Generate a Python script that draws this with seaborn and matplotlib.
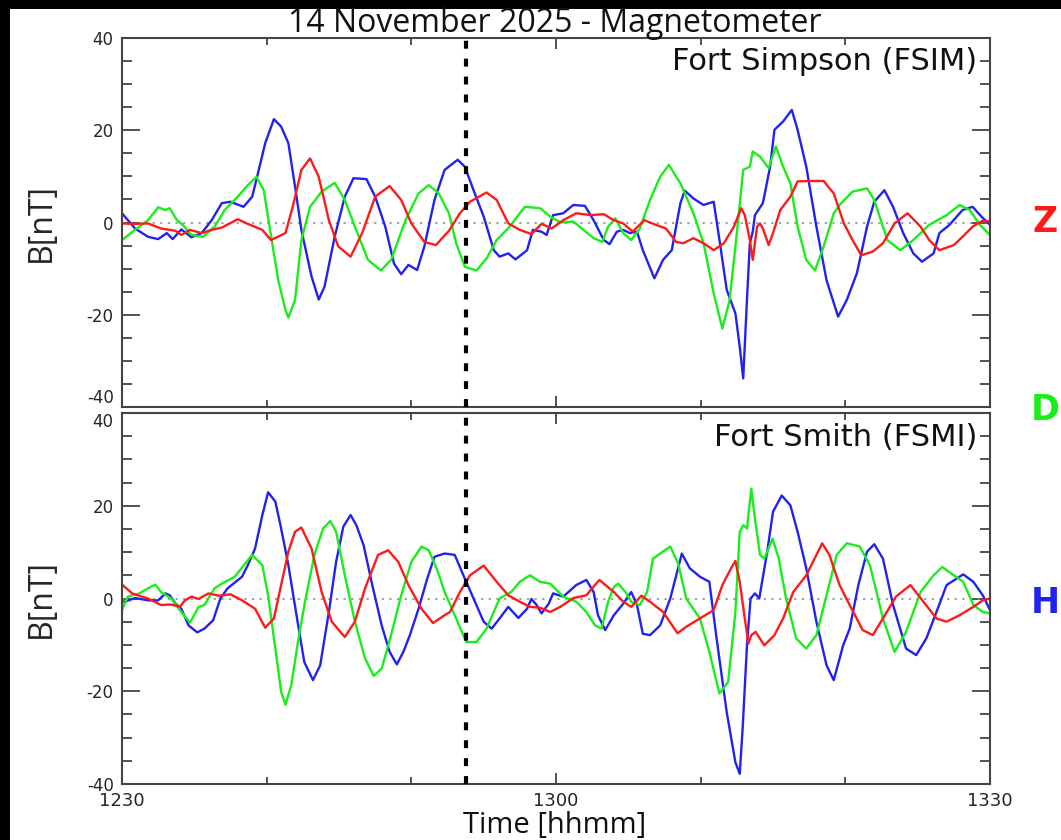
import numpy as np
import pandas as pd
import matplotlib
matplotlib.use("Agg")
import matplotlib.pyplot as plt
from matplotlib.patches import Rectangle
from matplotlib.ticker import MultipleLocator
import seaborn as sns

# ---------------- data (minutes after 12:30, nT) ----------------
fsim_h_t = [0, 0.9, 1.8, 2.5, 3.1, 3.5, 4.1, 4.8, 5.5, 6.2, 6.9, 7.5, 8.4, 9.0, 9.4, 9.9, 10.5, 11.0, 11.5, 11.96,
            12.4, 13.1, 13.6, 14.0, 14.7, 15.4, 16.0, 16.9, 17.5, 18.2, 18.8, 19.3, 19.8, 20.4, 20.9, 21.6, 22.3, 23.2,
            23.7, 24.3, 25.0, 25.7, 26.1, 26.7, 27.2, 28.0, 28.4, 29.0, 29.35, 29.8, 30.5, 31.2, 32.0, 32.6, 33.3, 33.7,
            34.2, 34.65, 35.1, 35.6, 36.0, 36.8, 37.4, 38.0, 38.6, 38.9, 39.5, 40.2, 40.9, 41.3, 41.8, 42.4, 42.7, 42.94,
            43.2, 43.4, 43.6, 43.75, 44.3, 44.8, 45.1, 45.7, 46.3, 46.7, 47.3, 48.0, 48.7, 49.5, 50.1, 50.8, 51.5, 52.0,
            52.7, 53.3, 54.0, 54.7, 55.3, 56.1, 56.5, 57.2, 58.1, 58.8, 59.4, 60]
fsim_h_v = [2.0, -1.3, -3.1, -3.6, -2.3, -3.6, -1.5, -3.2, -2.3, 0.5, 4.2, 4.5, 3.4, 5.6, 10.7, 17.2, 22.4, 20.8, 17.2, 7.8,
            -1.6, -11.7, -16.7, -13.9, -3.1, 5.6, 9.6, 9.4, 5.6, -0.9, -8.9, -11.2, -9.2, -10.3, -5.2, 4.9, 11.4, 13.6,
            12.1, 7.0, 1.3, -6.0, -7.4, -6.7, -8.0, -6.0, -1.6, -2.0, -2.7, 1.6, 2.0, 3.8, 3.6, 0.5, -3.8, -4.7,
            -2.0, -1.6, -2.3, -2.0, -6.0, -12.1, -8.1, -6.0, 4.2, 6.9, 5.2, 3.8, 4.5, -3.8, -14.6, -19.7, -26.9, -33.8,
            -16.8, -4.5, -2.0, 1.6, 4.2, 12.1, 20.1, 21.9, 24.4, 20.1, 12.1, -0.9, -12.5, -20.4, -16.8, -11.0, -0.9, 4.5,
            7.0, 3.4, -2.3, -6.7, -8.5, -6.7, -2.3, -0.5, 2.7, 3.4, 1.3, -0.5]

fsim_d_t = [0, 0.9, 1.8, 2.5, 3.0, 3.3, 3.8, 4.2, 4.8, 5.6, 6.4, 7.1, 8.0, 8.7, 9.3, 9.8, 10.2, 10.8, 11.3, 11.5, 11.96,
            12.4, 13.0, 13.8, 14.7, 15.4, 16.1, 17.0, 17.9, 18.6, 19.6, 20.5, 21.2, 21.9, 22.6, 23.1, 23.7, 24.5, 25.2,
            25.9, 26.8, 27.4, 27.85, 28.9, 29.6, 30.3, 31.2, 31.9, 32.6, 33.2, 33.6, 34.1, 34.65, 35.2, 35.8, 36.5, 37.2,
            37.8, 38.6, 39.5, 40.2, 40.9, 41.5, 42.0, 42.5, 42.94, 43.2, 43.4, 43.6, 44.1, 44.7, 45.2, 45.7, 46.2, 46.7,
            47.3, 47.9, 48.5, 49.2, 49.6, 50.5, 51.5, 52.0, 52.9, 53.8, 54.7, 55.8, 57.0, 57.9, 58.6, 59.3, 60]
fsim_d_v = [-3.8, -1.6, 0.5, 3.3, 2.7, 3.1, 0.5, -0.5, -2.7, -3.1, -0.9, 2.7, 5.6, 8.1, 9.9, 7.0, -0.9, -12.5, -19.0, -20.6, -16.8,
            -3.8, 3.4, 6.7, 8.6, 4.9, -0.9, -8.1, -10.4, -8.1, 0.5, 6.3, 8.1, 6.3, 2.0, -4.5, -9.6, -10.4, -7.8,
            -3.8, -0.9, 1.6, 3.4, 3.1, 1.3, 0.0, 0.2, -1.6, -3.4, -4.2, -0.9, 0.9, -2.3, -3.8, -1.3, 4.9, 9.9,
            12.5, 8.5, 2.0, -4.5, -15.4, -23.0, -16.8, -2.3, 11.4, 11.8, 12.1, 15.4, 14.3, 11.8, 16.5, 12.1, 8.5, -0.9,
            -8.1, -10.4, -5.2, 2.0, 3.8, 6.7, 7.4, 4.9, -3.8, -6.0, -3.8, -0.5, 1.6, 3.8, 2.7, -0.5, -2.7]

fsim_z_t = [0, 0.9, 1.8, 2.7, 3.7, 4.1, 4.7, 5.5, 6.2, 6.9, 8.0, 8.7, 9.7, 10.3, 11.3, 11.8, 12.4, 13.0, 13.6, 14.3,
            14.95, 15.8, 16.6, 17.5, 18.5, 19.3, 20.0, 20.9, 21.7, 22.6, 23.36, 24.05, 25.2, 25.9, 26.7, 27.5, 28.3,
            29.0, 29.7, 30.5, 31.4, 32.4, 33.3, 34.0, 34.65, 35.3, 36.1, 36.9, 37.6, 38.3, 38.8, 39.5, 40.2, 40.9, 41.6,
            42.3, 42.8, 43.05, 43.4, 43.6, 43.9, 44.1, 44.3, 44.7, 45.0, 45.5, 46.2, 46.7, 47.5, 48.5, 49.2, 49.9, 50.5,
            51.1, 51.9, 52.6, 53.4, 54.3, 55.2, 55.8, 56.5, 57.5, 58.1, 58.8, 59.5, 60]
fsim_z_v = [-0.2, -0.3, -0.2, -1.3, -1.8, -2.7, -1.6, -2.3, -1.6, -1.1, 0.7, -0.3, -1.6, -3.8, -2.3, 3.4, 11.4, 13.9, 9.9, 0.5,
            -5.2, -7.4, -2.3, 5.6, 7.9, 4.9, -0.2, -4.2, -4.9, -1.8, 2.0, 4.5, 6.5, 4.9, -0.2, -1.6, -2.5,
            -0.3, -1.3, 0.5, 2.0, 1.6, 1.8, 0.5, -0.2, -2.0, 0.5, -0.5, -1.3, -4.2, -4.5, -3.4, -4.5, -6.0, -4.5,
            -0.9, 3.1, 1.6, -3.8, -8.1, -0.9, -0.2, -1.3, -4.9, -2.3, 2.7, 5.6, 8.9, 9.0, 9.0, 6.3, -0.2, -3.8,
            -7.1, -6.3, -4.5, -0.2, 2.0, -0.9, -3.8, -6.0, -4.9, -3.1, -0.9, 0.4, 0.2]

fsmi_h_t = [0, 0.2, 0.9, 1.8, 2.5, 3.0, 3.3, 3.7, 4.1, 4.6, 5.2, 5.7, 6.3, 6.8, 7.3, 8.3, 8.7, 9.2, 9.7, 10.1, 10.6,
            11.0, 11.5, 12.1, 12.6, 13.2, 13.7, 14.3, 14.8, 15.3, 15.8, 16.2, 16.7, 17.3, 17.95, 18.5, 19.0, 19.45, 19.9,
            20.5, 21.1, 21.6, 22.3, 23.0, 23.6, 24.3, 25.0, 25.55, 26.1, 26.7, 27.4, 28.0, 28.3, 28.66, 29.0, 29.5, 29.8,
            30.5, 31.4, 32.1, 32.6, 32.9, 33.4, 34.0, 34.65, 35.2, 35.6, 36.0, 36.5, 37.2, 37.9, 38.7, 39.25, 39.95,
            40.6, 41.1, 41.8, 42.4, 42.7, 42.9, 43.2, 43.45, 43.75, 44.05, 44.6, 45.0, 45.6, 46.2, 46.7, 47.3, 48.0,
            48.7, 49.2, 49.85, 50.3, 50.9, 51.5, 52.0, 52.6, 53.3, 54.2, 54.9, 55.6, 56.3, 57.0, 58.15, 58.85, 59.5, 60]
fsmi_h_v = [-0.6, -0.7, 0.1, -0.4, -0.4, 1.1, 0.7, -1.1, -2.2, -5.8, -7.3, -6.5, -4.7, 0.0, 2.2, 4.7, 7.2, 10.8, 18.0, 22.9, 20.9,
            15.1, 7.2, -4.3, -13.7, -17.6, -14.4, -2.9, 7.9, 15.5, 18.0, 15.8, 11.5, 2.9, -5.8, -11.5, -14.2, -11.5, -7.9,
            -2.2, 4.3, 9.0, 9.7, 9.4, 5.0, 0.0, -5.0, -6.5, -4.3, -1.8, -4.2, -2.2, -0.1, -1.4, -3.2, -1.1, 1.1,
            0.4, 2.9, 4.0, 1.4, -3.6, -6.8, -3.6, -1.1, 1.4, -1.4, -7.6, -7.9, -5.8, 0.0, 9.7, 6.5, 4.7,
            3.6, -8.6, -24.5, -35.3, -37.8, -28.1, -10.1, 0.0, 1.1, 0.0, 10.1, 18.7, 22.2, 20.1, 14.4, 6.5, -5.0,
            -14.4, -17.6, -10.1, -6.5, 2.9, 10.1, 11.7, 8.6, -1.4, -10.8, -12.2, -8.6, -2.9, 2.9, 5.2, 3.6, 0.7, -2.5]

fsmi_d_t = [0, 0.4, 1.2, 1.8, 2.3, 2.7, 3.4, 4.1, 4.7, 5.3, 5.7, 6.4, 6.9, 7.8, 8.4, 9.0, 9.7, 10.1, 10.6, 11.0, 11.3,
            11.7, 12.2, 12.65, 13.3, 13.9, 14.4, 14.8, 15.4, 16.1, 16.8, 17.4, 17.95, 18.6, 19.3, 20.0, 20.7, 21.2, 21.8,
            22.3, 23.0, 23.8, 24.5, 25.2, 26.1, 26.9, 27.5, 28.2, 28.9, 29.6, 30.5, 31.4, 32.1, 32.7, 33.15, 33.6, 34.0,
            34.3, 34.8, 35.2, 35.8, 36.3, 36.7, 37.2, 37.9, 38.45, 39.0, 39.95, 40.6, 41.3, 41.9, 42.4, 42.7, 42.95,
            43.2, 43.5, 43.75, 44.1, 44.4, 44.97, 45.4, 45.9, 46.6, 47.3, 48.0, 48.7, 49.4, 50.1, 51.0, 51.7, 52.6,
            53.4, 54.2, 55.2, 56.1, 56.7, 57.5, 58.15, 58.85, 59.5, 60]
fsmi_d_v = [-2.5, 0.4, 1.1, 2.2, 3.0, 1.4, 0.0, -2.9, -5.2, -1.8, -1.4, 2.2, 3.2, 4.7, 7.1, 9.4, 7.2, 0.7, -10.8, -20.1, -22.9,
            -18.7, -8.6, -0.7, 9.4, 15.1, 16.7, 14.4, 5.0, -5.0, -12.9, -16.7, -15.1, -7.9, 0.7, 7.9, 11.2, 10.4, 6.1,
            1.4, -3.6, -9.4, -9.4, -6.5, 0.0, 1.4, 3.6, 5.0, 3.6, 3.2, 0.4, -0.7, -2.9, -5.8, -6.5, -0.7, 2.5,
            3.2, 1.4, -0.7, -1.4, 1.4, 8.6, 9.7, 11.2, 7.5, 0.0, -4.3, -11.5, -20.5, -18.0, -2.9, 14.4, 15.8,
            15.1, 23.7, 17.3, 9.4, 8.6, 12.9, 8.6, 0.0, -8.6, -10.8, -7.9, 0.7, 9.4, 11.9, 11.2, 7.2, -4.3,
            -11.5, -7.2, 1.4, 5.0, 6.8, 5.0, 3.6, -1.4, -2.9, -3.2]

fsmi_z_t = [0, 0.7, 1.8, 2.7, 3.4, 4.0, 4.35, 4.8, 5.3, 5.97, 6.7, 7.5, 8.3, 9.2, 9.9, 10.5, 11.0, 11.5, 11.96, 12.4,
            13.1, 13.8, 14.5, 15.4, 16.1, 16.8, 17.7, 18.4, 19.1, 19.8, 20.7, 21.5, 22.3, 22.67, 23.36, 24.05, 25.0,
            25.9, 26.7, 27.5, 28.2, 28.9, 29.6, 30.3, 31.2, 32.1, 33.0, 34.0, 34.65, 35.2, 35.9, 36.5, 37.4, 38.4,
            39.0, 39.95, 40.9, 41.5, 42.1, 42.4, 42.7, 43.05, 43.3, 43.5, 43.8, 44.4, 45.1, 45.7, 46.4, 47.3, 48.0,
            48.4, 48.9, 49.6, 50.3, 51.2, 51.9, 52.6, 53.5, 54.5, 55.4, 56.3, 57.0, 57.9, 58.85, 59.5, 60]
fsmi_z_v = [3.0, 1.1, 0.0, -1.4, -1.3, -1.8, -0.4, 0.4, -0.1, 1.1, 0.6, 0.9, -0.4, -2.2, -6.3, -4.3, 2.9, 10.1, 14.4, 15.3,
            10.8, 1.4, -5.0, -8.3, -5.0, 2.2, 9.4, 10.4, 7.9, 2.9, -2.2, -5.3, -3.6, -2.9, 1.4, 5.0, 7.1,
            3.6, 0.7, -0.7, -1.8, -2.0, -2.9, -1.8, 0.1, 0.7, 4.0, 1.4, -0.7, -1.8, 0.6, -0.7, -2.9, -7.5,
            -6.1, -4.3, -2.5, 2.9, 6.5, 8.1, 3.6, -4.3, -9.7, -7.9, -7.2, -10.1, -7.9, -4.3, 1.4, 5.0, 9.4,
            11.9, 9.4, 2.9, -1.4, -6.8, -7.9, -4.3, 0.4, 2.9, -0.7, -4.3, -5.0, -3.6, -1.8, -0.4, 0.0]

stations = ["Fort Simpson (FSIM)", "Fort Smith (FSMI)"]
components = ["Z", "D", "H"]
comp_colors = {"Z": "#ff1a1a", "D": "#1aee1a", "H": "#2222f0"}
x_ticks = [0, 30, 60]
x_tick_labels = ["1230", "1300", "1330"]
y_ticks = [-40, -20, 0, 20, 40]
event_time = 23.75
title = "14 November 2025 - Magnetometer"

series = {
    0: {"H": (fsim_h_t, fsim_h_v), "D": (fsim_d_t, fsim_d_v), "Z": (fsim_z_t, fsim_z_v)},
    1: {"H": (fsmi_h_t, fsmi_h_v), "D": (fsmi_d_t, fsmi_d_v), "Z": (fsmi_z_t, fsmi_z_v)},
}

# ---------------- figure ----------------
sns.set_theme(style="white")
W, H = 1061, 840
fig = plt.figure(figsize=(W / 100, H / 100), dpi=100)
fig.patch.set_facecolor("black")
bg = Rectangle((10 / W, 0), 1 - 10 / W, (H - 9) / H, transform=fig.transFigure,
               facecolor="white", edgecolor="none", zorder=-10)
fig.add_artist(bg)

left, right = 122 / W, 990 / W
boxes = [(38, 407), (413, 784)]
label_y = [61, 437]
axes = []
for i, (top, bot) in enumerate(boxes):
    ax = fig.add_axes([left, 1 - bot / H, right - left, (bot - top) / H])
    ax.set_facecolor("white")
    frames = []
    for comp in ["H", "D", "Z"]:
        t, v = series[i][comp]
        frames.append(pd.DataFrame({"time": t, "B": v, "comp": comp}))
    df = pd.concat(frames, ignore_index=True)
    sns.lineplot(data=df, x="time", y="B", hue="comp", palette=comp_colors, estimator=None,
                 sort=False, linewidth=1.7, legend=False, ax=ax)
    ax.axhline(0, color="#888888", linestyle=(0, (1.5, 3.5)), linewidth=1.1, zorder=1)
    ax.axvline(event_time, color="black", linestyle=(0, (1.9, 2.4)), linewidth=3.0, zorder=5)
    ax.set_xlim(0, 60)
    ax.set_ylim(-40, 40)
    ax.set_xticks(x_ticks)
    ax.xaxis.set_minor_locator(MultipleLocator(10))
    ax.set_yticks(y_ticks)
    ax.set_yticklabels([str(v) for v in y_ticks])
    ax.yaxis.set_minor_locator(MultipleLocator(5))
    ax.tick_params(which="major", direction="in", top=True, right=True, bottom=True, left=True,
                   length=13, width=1.2, color="#333333", labelsize=12, pad=6)
    ax.tick_params(which="minor", direction="in", top=True, right=True, bottom=True, left=True,
                   length=7, width=1.2, color="#333333")
    ax.tick_params(axis="x", which="major", length=8)
    ax.tick_params(axis="x", which="minor", length=5)
    for s in ax.spines.values():
        s.set_color("#444444")
        s.set_linewidth(1.5)
    ax.set_xlabel("")
    ax.set_ylabel("B[nT]", fontsize=23, family=["Open Sans", "DejaVu Sans"])
    ax.yaxis.set_label_coords((58 - 122) / 868, 0.5)
    ax.text(0.985, 1 - (label_y[i] - top) / (bot - top), stations[i], transform=ax.transAxes,
            ha="right", va="center", fontsize=22, color="#111111", family=["DejaVu Sans"])
    for lab in ax.get_yticklabels():
        lab.set_family("DejaVu Sans")
    axes.append(ax)

# keep the touching -40 / 40 labels apart, as in the original
axes[0].get_yticklabels()[0].set_verticalalignment("bottom")
axes[1].get_yticklabels()[-1].set_verticalalignment("top")

axes[0].set_xticklabels([])
axes[1].set_xticklabels(x_tick_labels)
for lab in axes[1].get_xticklabels():
    lab.set_family("DejaVu Sans")
axes[1].tick_params(axis="x", labelsize=13, pad=6)
axes[1].set_xlabel("")
fig.text(555 / W, 1 - 825 / H, "Time [hhmm]", ha="center", va="center", fontsize=21,
         family=["Open Sans", "DejaVu Sans"], color="#111111")

fig.text(555 / W, 1 - 23 / H, title, ha="center", va="center", fontsize=23,
         family=["Open Sans", "DejaVu Sans"], color="#111111")

for comp, ypix in [("Z", 222), ("D", 410), ("H", 603)]:
    fig.text(1045 / W, 1 - ypix / H, comp, ha="center", va="center", fontsize=25,
             fontweight="heavy", color=comp_colors[comp], family="DejaVu Sans")

fig.savefig("out.png", dpi=100, facecolor=fig.get_facecolor())
